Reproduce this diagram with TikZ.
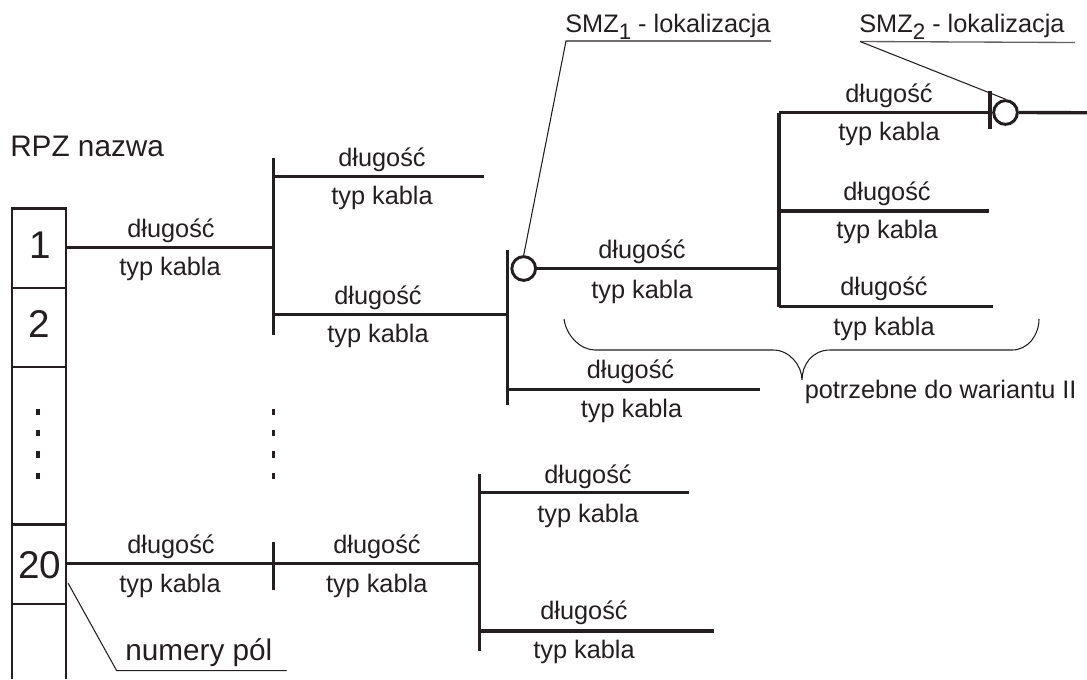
\documentclass[tikz,border=0pt]{standalone}
\usepackage{fontspec}
\setmainfont{Liberation Sans}
\definecolor{ink}{HTML}{231F20}
\newcommand{\sbs}[1]{\raisebox{-5.2pt}{\fontsize{16.8pt}{18pt}\selectfont #1}}
\tikzset{
  x=0.75pt,y=-0.75pt,
  lab/.style={inner sep=0pt,text=ink,yshift=-0.6pt,font=\fontsize{19pt}{21pt}\selectfont},
  big/.style={inner sep=0pt,text=ink,yshift=-0.6pt,font=\fontsize{22.3pt}{24pt}\selectfont},
  num/.style={inner sep=0pt,text=ink,font=\fontsize{29pt}{31pt}\selectfont},
  bar/.style={draw=ink,line width=2.5pt},
  box/.style={draw=ink,line width=2.2pt},
  leader/.style={draw=ink,line width=0.8pt},
  ring/.style={circle,draw=ink,line width=2.2pt,minimum size=17.8pt,inner sep=0pt,fill=white},
  vdots/.style={draw=ink,line width=2.4pt,dash pattern=on 4.9pt off 11.1pt},
}
\begin{document}
\begin{tikzpicture}
\useasboundingbox (0,0) rectangle (1087,679);
% column of fields
\coordinate (ctl) at (12,208.5); \coordinate (ctr) at (66,208.5);
\coordinate (cbl) at (12,679); \coordinate (cbr) at (66,679);
\draw[box] (cbl) -- (ctl) -- (ctr) -- (cbr);
\foreach \yy/\nn in {288/a,367/b,524.5/c,604/d}{
  \coordinate (dl\nn) at (12,\yy); \coordinate (dr\nn) at (66,\yy);
  \draw[box] (dl\nn) -- (dr\nn);
}
\node[num,anchor=base] (n1) at (40.5,258) {1};
\node[num,anchor=base] (n2) at (39.7,337) {2};
\node[num,anchor=base] (n20) at (39.7,578) {20};
\coordinate (f1) at (66,247.3);
\coordinate (f20) at (66,563.3);
\coordinate (dt1) at (38,408.5); \coordinate (db1) at (38,480);
\draw[vdots] (dt1) -- (db1);
\coordinate (dt2) at (273.5,408.5); \coordinate (db2) at (273.5,480);
\draw[vdots] (dt2) -- (db2);
\node[big,anchor=base west] (rpz) at (10,155.7) {RPZ nazwa};
% first bus
\coordinate (b1t) at (273.5,158); \coordinate (b1b) at (273.5,335);
\coordinate (j1) at (273.5,247.3); \coordinate (j1a) at (273.5,176.7); \coordinate (j1b) at (273.5,314.7);
\coordinate (e1a) at (484,176.7);
\draw[bar] (f1) -- (j1);
\draw[bar] (b1t) -- (b1b);
\draw[bar] (j1a) -- (e1a);
% second bus
\coordinate (b2t) at (507.7,250); \coordinate (b2b) at (507.7,405);
\coordinate (j2) at (507.7,314.7); \coordinate (j2a) at (507.7,389.3); \coordinate (e2a) at (760,389.3);
\draw[bar] (j1b) -- (j2);
\draw[bar] (b2t) -- (b2b);
\draw[bar] (j2a) -- (e2a);
\node[ring] (smz1) at (523.7,268.5) {};
% third bus
\coordinate (b3t) at (779,112.7); \coordinate (b3b) at (779,306.7);
\coordinate (j3) at (779,268.5); \coordinate (e3b) at (989,211); \coordinate (j3b) at (779,211);
\coordinate (e3c) at (993,306.7);
\draw[bar] (smz1) -- (j3);
\draw[bar] (b3b) -- (b3t);
\draw[bar] (j3b) -- (e3b);
\draw[bar] (b3b) -- (e3c);
\coordinate (t2t) at (990,91); \coordinate (t2b) at (990,129); \coordinate (t2m) at (990,112.7);
\draw[bar] (b3t) -- (t2m);
\draw[bar] (t2t) -- (t2b);
\node[ring] (smz2) at (1005.5,112.5) {};
\coordinate (eout) at (1087,112.7);
\draw[bar] (smz2) -- (eout);
% bottom group
\coordinate (t20t) at (273.5,542); \coordinate (t20b) at (273.5,589.5);
\coordinate (b4t) at (479.3,474); \coordinate (b4b) at (479.3,650.7); \coordinate (j4) at (479.3,563.3);
\coordinate (j4a) at (479.3,492.7); \coordinate (e4a) at (689,492.7);
\coordinate (j4b) at (479.3,631); \coordinate (e4b) at (714,631);
\draw[bar] (f20) -- (j4);
\draw[bar] (t20t) -- (t20b);
\draw[bar] (b4t) -- (b4b);
\draw[bar] (j4a) -- (e4a);
\draw[bar] (j4b) -- (e4b);
% brace
\coordinate (brl) at (564,319); \coordinate (brr) at (1039,319); \coordinate (brt) at (802,380);
\draw[leader] (brl) .. controls (566,335) and (580,350) .. (595,350) -- (773,350)
  .. controls (790,350) and (802,366) .. (brt)
  .. controls (802,365) and (812,350) .. (830,350) -- (1012,350)
  .. controls (1028,350) and (1039,335) .. (brr);
\node[lab,anchor=base west] (potrz) at (804.5,398) {potrzebne do wariantu II};
% leaders
\node[lab,anchor=base west] (s1) at (565,31.5) {SMZ\sbs{1} - lokalizacja};
\coordinate (u1a) at (566,41); \coordinate (u1b) at (771,41);
\draw[leader] (u1b) -- (u1a) -- (smz1.north);
\node[lab,anchor=base west] (s2) at (859,31.5) {SMZ\sbs{2} - lokalizacja};
\coordinate (u2a) at (860,41.5); \coordinate (u2b) at (1075,42.5);
\draw[draw=ink!70,line width=1pt] (u2a) -- (u2b);
\draw[leader] (u2a) -- (smz2.north);
\node[big,anchor=base west] (pol) at (125,659.3) {numery pól};
\coordinate (u3o) at (68,583); \coordinate (u3a) at (116.7,670.7); \coordinate (u3b) at (286.7,670.7);
\draw[leader] (u3o) -- (u3a) -- (u3b);
% labels
\foreach \nm/\xx/\yy/\txt in {
 a1/171/236.7/długość, a2/170/275/typ kabla,
 a3/382/166/długość, a4/382/204/typ kabla,
 a5/378/304/długość, a6/378/342/typ kabla,
 a7/642/258/długość, a8/642/297.7/typ kabla,
 a9/889/101.7/długość, a10/889/139.5/typ kabla,
 a11/887/200/długość, a12/887/237.7/typ kabla,
 a13/884/295/długość, a14/884/335/typ kabla,
 a15/630.5/377.7/długość, a16/631.5/416.7/typ kabla,
 a17/171/553/długość, a18/170/591.7/typ kabla,
 a19/377/553/długość, a20/376.7/592/typ kabla,
 a21/588/482.7/długość, a22/588/521.7/typ kabla,
 a23/584/619/długość, a24/584/658/typ kabla}{
  \node[lab,anchor=base] (\nm) at (\xx,\yy) {\txt};
}
\end{tikzpicture}
\end{document}
